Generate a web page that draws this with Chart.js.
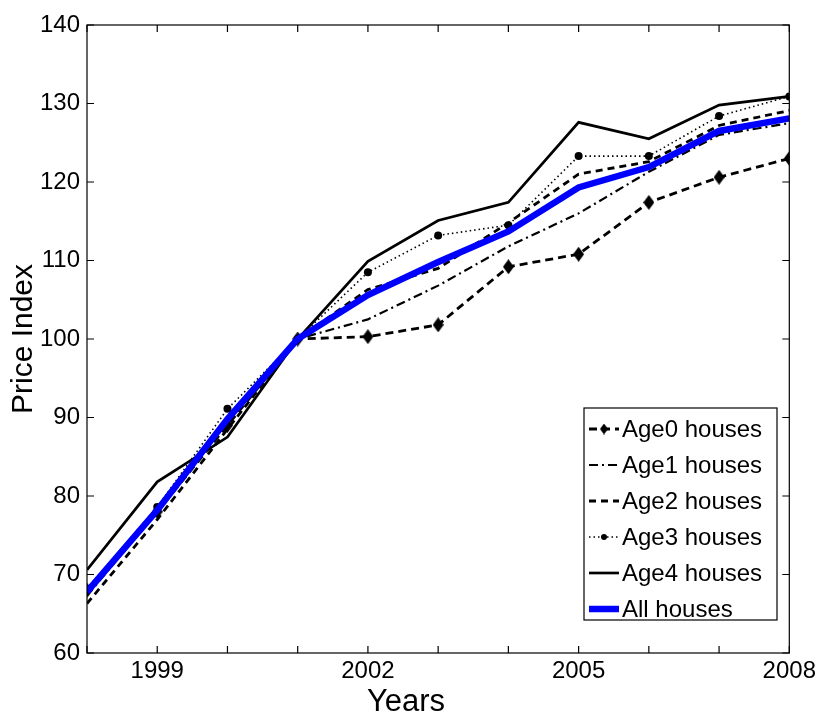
<!DOCTYPE html>
<html><head><meta charset="utf-8">
<script src="https://cdn.jsdelivr.net/npm/chart.js@4.4.0/dist/chart.umd.min.js"></script>
<style>html,body{margin:0;padding:0;background:#fff;}canvas{display:block;}</style>
</head><body>
<canvas id="c" width="820" height="715"></canvas>
<script>
const years = [1998, 1999, 2000, 2001, 2002, 2003, 2004, 2005, 2006, 2007, 2008];
const xTickLabels = [1999, 2002, 2005, 2008];
const yTicks = [60, 70, 80, 90, 100, 110, 120, 130, 140];
const seriesNames = ['Age0 houses', 'Age1 houses', 'Age2 houses', 'Age3 houses', 'Age4 houses', 'All houses'];
const age0 = [68.0, 78.0, 89.0, 100, 100.3, 101.8, 109.2, 110.8, 117.4, 120.6, 123.0];
const age1 = [67.3, 78.0, 89.5, 100, 102.5, 106.8, 111.8, 116.0, 121.3, 126.0, 127.5];
const age2 = [66.3, 77.0, 88.5, 100, 106.3, 109.0, 114.8, 121.0, 122.6, 127.2, 129.1];
const age3 = [68.2, 78.6, 91.1, 100, 108.5, 113.2, 114.5, 123.3, 123.3, 128.4, 130.9];
const age4 = [70.6, 81.8, 87.5, 100, 109.9, 115.1, 117.4, 127.6, 125.5, 129.8, 130.9];
const allHouses = [67.8, 78.2, 89.8, 100, 105.6, 109.8, 113.7, 119.3, 121.9, 126.5, 128.1];

const FONT = '"Liberation Sans", Arial, sans-serif';
const pts = arr => years.map((y, i) => ({x: y, y: arr[i]}));

function diamond(w, h) {
  const c = document.createElement('canvas');
  c.width = w; c.height = h;
  const g = c.getContext('2d');
  g.fillStyle = '#000';
  g.beginPath();
  g.moveTo(w / 2, 0); g.lineTo(w, h / 2); g.lineTo(w / 2, h); g.lineTo(0, h / 2);
  g.closePath(); g.fill();
  return c;
}
const diamondImg = diamond(11, 15);
const diamondSmall = diamond(8, 11);

const styles = [
  {data: age0, borderColor: '#000', borderWidth: 2.8, borderDash: [8, 5], pointStyle: diamondImg, legendPoint: diamondSmall, pointRadius: 6, order: 5},
  {data: age1, borderColor: '#000', borderWidth: 2.2, borderDash: [9, 4, 2, 4], pointRadius: 0, order: 4},
  {data: age2, borderColor: '#000', borderWidth: 2.8, borderDash: [7, 5], pointRadius: 0, order: 3},
  {data: age3, borderColor: '#000', borderWidth: 1.6, borderDash: [1.5, 3], pointStyle: 'circle', pointRadius: 4, pointBackgroundColor: '#000', pointBorderWidth: 0, order: 2},
  {data: age4, borderColor: '#000', borderWidth: 2.7, borderDash: [], pointRadius: 0, order: 1},
  {data: allHouses, borderColor: '#0000ff', borderWidth: 6.5, borderDash: [], pointRadius: 0, order: 0}
];

const datasets = styles.map((s, i) => Object.assign({}, s, {
  label: seriesNames[i], data: pts(s.data), fill: false, tension: 0,
  borderCapStyle: 'butt', borderJoinStyle: 'miter', pointHoverRadius: s.pointRadius
}));

const framePlugin = {
  id: 'frame',
  afterDraw(chart) {
    const {ctx, chartArea: a, scales: {x, y}} = chart;
    ctx.save();
    ctx.strokeStyle = '#000';
    ctx.lineWidth = 1.2;
    ctx.setLineDash([]);
    ctx.strokeRect(a.left, a.top, a.right - a.left, a.bottom - a.top);
    const L = 7;
    ctx.beginPath();
    years.forEach(v => {
      const px = x.getPixelForValue(v);
      ctx.moveTo(px, a.bottom); ctx.lineTo(px, a.bottom - L);
      ctx.moveTo(px, a.top); ctx.lineTo(px, a.top + L);
    });
    yTicks.forEach(v => {
      const py = y.getPixelForValue(v);
      ctx.moveTo(a.left, py); ctx.lineTo(a.left + L, py);
      ctx.moveTo(a.right, py); ctx.lineTo(a.right - L, py);
    });
    ctx.stroke();

    // x axis title (placed as in the reference, slightly left of centre)
    ctx.fillStyle = '#000';
    ctx.font = '31px ' + FONT;
    ctx.textAlign = 'center';
    ctx.textBaseline = 'alphabetic';
    ctx.fillText('Years', 406, 711);

    // legend
    const bx = 584, by = 408, bw = 193, bh = 212;
    ctx.fillStyle = '#fff';
    ctx.fillRect(bx, by, bw, bh);
    ctx.lineWidth = 1.2;
    ctx.strokeRect(bx, by, bw, bh);
    ctx.font = '24px ' + FONT;
    ctx.textBaseline = 'middle';
    ctx.textAlign = 'left';
    chart.data.datasets.forEach((ds, i) => {
      const cy = by + 21 + i * 36;
      const x0 = bx + 5, x1 = bx + 35;
      ctx.strokeStyle = ds.borderColor;
      ctx.lineWidth = ds.borderWidth;
      ctx.setLineDash(ds.borderDash || []);
      ctx.beginPath(); ctx.moveTo(x0, cy); ctx.lineTo(x1, cy); ctx.stroke();
      ctx.setLineDash([]);
      const mx = (x0 + x1) / 2;
      if (ds.legendPoint) {
        ctx.drawImage(ds.legendPoint, mx - ds.legendPoint.width / 2, cy - ds.legendPoint.height / 2);
      } else if (ds.pointRadius > 0) {
        ctx.fillStyle = '#000';
        ctx.beginPath();
        ctx.arc(mx, cy, 3, 0, Math.PI * 2);
        ctx.fill();
      }
      ctx.fillStyle = '#000';
      ctx.fillText(ds.label, bx + 38, cy + 1);
    });
    ctx.restore();
  }
};

new Chart(document.getElementById('c'), {
  type: 'line',
  data: {datasets},
  options: {
    responsive: false,
    animation: false,
    events: [],
    layout: {padding: {top: 25, right: 29, left: 0, bottom: 0}},
    plugins: {legend: {display: false}, tooltip: {enabled: false}},
    scales: {
      x: {
        type: 'linear', min: 1998, max: 2008,
        afterBuildTicks: s => { s.ticks = years.map(v => ({value: v})); },
        afterFit: s => { s.height = 62; },
        grid: {display: false, drawTicks: false},
        border: {display: false},
        ticks: {
          autoSkip: false, maxRotation: 0, padding: 4, color: '#000',
          font: {family: FONT, size: 24},
          callback: v => xTickLabels.includes(v) ? String(v) : ''
        },
        title: {display: false}
      },
      y: {
        min: 60, max: 140,
        afterBuildTicks: s => { s.ticks = yTicks.map(v => ({value: v})); },
        afterFit: s => { s.width = 87; },
        grid: {display: false, drawTicks: false},
        border: {display: false},
        ticks: {padding: 7, color: '#000', font: {family: FONT, size: 24}},
        title: {display: true, text: 'Price Index', color: '#000', font: {family: FONT, size: 30, lineHeight: 1.0}, padding: {top: 9, bottom: 0}}
      }
    }
  },
  plugins: [framePlugin]
});
</script>
</body></html>
